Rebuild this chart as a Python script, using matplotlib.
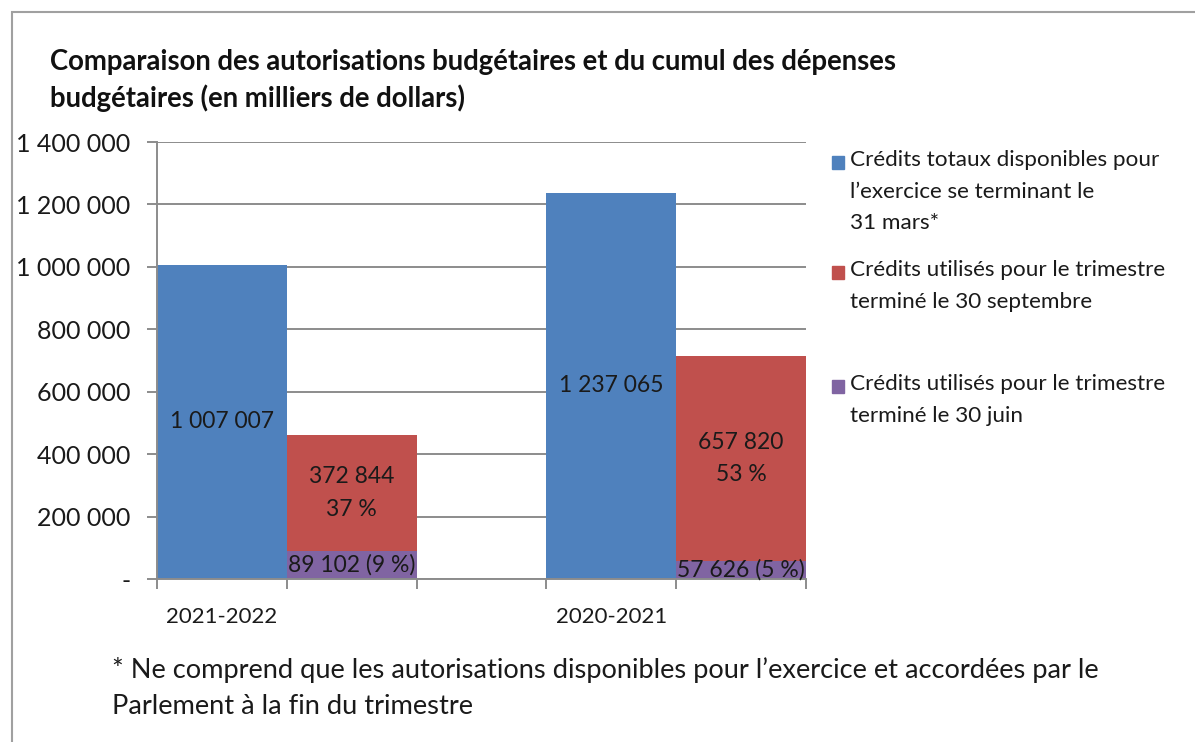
import matplotlib
matplotlib.use("Agg")
import matplotlib.pyplot as plt
from matplotlib.patches import Rectangle
from matplotlib.ticker import FuncFormatter

plt.rcParams['font.family'] = ['Lato', 'DejaVu Sans']

categories = ["2021-2022", "2020-2021"]
credits_totaux = [1007007, 1237065]
credits_sept = [372844, 657820]
credits_juin = [89102, 57626]
pct_sept = ["37 %", "53 %"]
pct_juin = ["9 %", "5 %"]
series_names = [
    "Crédits totaux disponibles pour\nl\u2019exercice se terminant le\n31 mars*",
    "Crédits utilisés pour le trimestre\nterminé le 30 septembre",
    "Crédits utilisés pour le trimestre\nterminé le 30 juin",
]
colors = ["#4F81BD", "#C0504D", "#8064A2"]
yticks = [0, 200000, 400000, 600000, 800000, 1000000, 1200000, 1400000]

W, H = 1195, 742
fig = plt.figure(figsize=(W / 100, H / 100), dpi=100)
ax = fig.add_axes([157 / W, 1 - 579 / H, (806 - 157) / W, (579 - 142) / H])

def fmt(v):
    return f"{int(round(v)):,}".replace(",", " ")

blue_x = [0, 3]
red_x = [1, 4]
ax.bar(blue_x, credits_totaux, width=1, align='edge', color=colors[0], zorder=2)
ax.bar(red_x, credits_juin, width=1, align='edge', color=colors[2], zorder=2)
ax.bar(red_x, credits_sept, width=1, align='edge', bottom=credits_juin, color=colors[1], zorder=2)

fs_lab = 16.5
for i in range(2):
    ax.text(blue_x[i] + 0.5, credits_totaux[i] / 2, fmt(credits_totaux[i]),
            ha='center', va='center', fontsize=fs_lab, color='#1a1a1a', zorder=3)
    ax.text(red_x[i] + 0.5, credits_juin[i] + credits_sept[i] / 2,
            fmt(credits_sept[i]) + "\n" + pct_sept[i], ha='center', va='center',
            fontsize=fs_lab, color='#1a1a1a', linespacing=1.65, zorder=3)
    ax.text(red_x[i] + 0.5, credits_juin[i] / 2,
            f"{fmt(credits_juin[i])} ({pct_juin[i]})", ha='center', va='center',
            fontsize=fs_lab, color='#1a1a1a', zorder=3)

ax.set_xlim(0, 5)
ax.set_ylim(0, 1400000)
ax.set_yticks(yticks)
ax.yaxis.set_major_formatter(FuncFormatter(lambda v, p: "-" if v == 0 else fmt(v)))
ax.set_xticks([0, 1, 2, 3, 4, 5])
ax.set_xticklabels([])
for i, c in enumerate(categories):
    ax.text(blue_x[i] + 0.5, -0.088, c, transform=ax.get_xaxis_transform(),
            ha='center', va='center', fontsize=16, color='#1a1a1a')

ax.grid(axis='y', color='#8c8c8c', linewidth=1.4, zorder=1)
for s in ['top', 'right']:
    ax.spines[s].set_visible(False)
for s in ['left', 'bottom']:
    ax.spines[s].set_color('#8c8c8c')
    ax.spines[s].set_linewidth(1.4)
ax.tick_params(axis='y', length=7, width=1.4, color='#8c8c8c', labelsize=18,
               labelcolor='#1a1a1a', pad=12)
ax.tick_params(axis='x', length=7, width=1.4, color='#8c8c8c', direction='out')

# Title
fig.text(50 / W, 1 - 62 / H, "Comparaison des autorisations budgétaires et du cumul des dépenses",
         fontsize=19.8, fontweight='bold', ha='left', va='center', color='#111111')
fig.text(50 / W, 1 - 98 / H, "budgétaires (en milliers de dollars)",
         fontsize=19.8, fontweight='bold', ha='left', va='center', color='#111111')

# Legend (manual)
legend_y = [162, 272, 386]
for name, col, yy in zip(series_names, colors, legend_y):
    fig.patches.append(Rectangle((832 / W, 1 - (yy + 7) / H), 12 / W, 13 / H,
                                 transform=fig.transFigure, color=col))
    fig.text(850 / W, 1 - (yy - 12) / H, name, fontsize=16.2, ha='left', va='top',
             color='#1a1a1a', linespacing=1.72)

# Footnote
fig.text(112 / W, 1 - 670 / H,
         "* Ne comprend que les autorisations disponibles pour l\u2019exercice et accordées par le",
         fontsize=19.6, ha='left', va='center', color='#1a1a1a')
fig.text(112 / W, 1 - 706 / H, "Parlement à la fin du trimestre",
         fontsize=19.6, ha='left', va='center', color='#1a1a1a')

# Outer frame
fig.patches.append(Rectangle((12 / W, -0.1), 1.2, 1 - 12 / H + 0.1, transform=fig.transFigure,
                             fill=False, edgecolor='#a0a0a0', linewidth=1.5))

fig.savefig("out.png", dpi=100)
